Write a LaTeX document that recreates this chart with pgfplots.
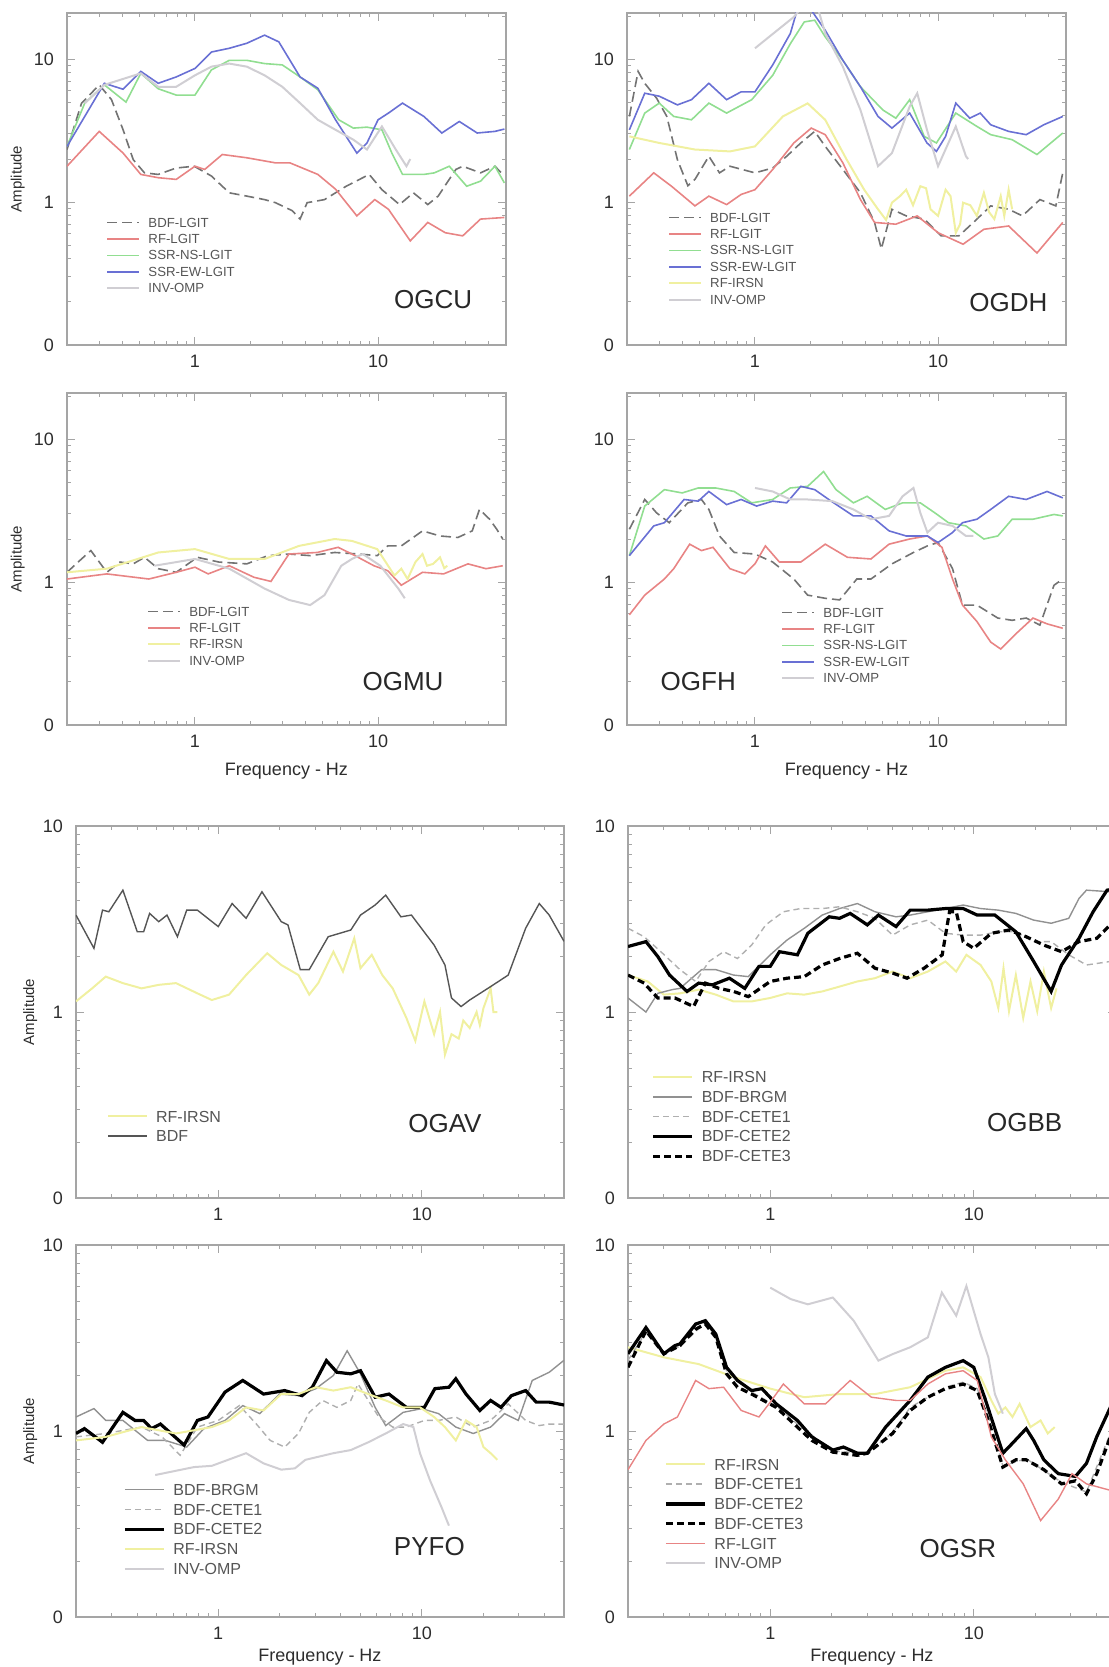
\documentclass[border=0pt]{standalone}
\usepackage{fontspec}
\setmainfont{Liberation Sans}
\usepackage{pgfplots}
\pgfplotsset{compat=1.18}
\definecolor{axc}{RGB}{165,165,165}
\definecolor{tlc}{RGB}{45,45,45}
\definecolor{lgc}{RGB}{85,85,85}
\definecolor{lbc}{RGB}{40,40,40}
\definecolor{redc}{RGB}{232,132,132}
\definecolor{grnc}{RGB}{145,222,145}
\definecolor{bluc}{RGB}{105,112,212}
\definecolor{yelc}{RGB}{240,240,160}
\definecolor{invc}{RGB}{208,206,211}
\definecolor{bdfc}{RGB}{115,115,115}
\definecolor{bdfd}{RGB}{85,85,85}
\definecolor{brgc}{RGB}{145,145,145}
\definecolor{cetc}{RGB}{175,175,175}
\pgfplotsset{
  every axis/.append style={
    scale only axis, xmin=0.2, xmax=50,
    axis line style={axc, line width=0.7pt},
    major tick length=4pt, minor tick length=2pt,
    xtick={1,10}, xticklabels={\mbox{1},\mbox{10}},
    ytick={0.1,1,10}, yticklabels={\mbox{0},\mbox{1},\mbox{10}},
    minor xtick={0.3,0.4,0.5,0.6,0.7,0.8,0.9,2,3,4,5,6,7,8,9,20,30,40},
    minor ytick={0.2,0.3,0.4,0.5,0.6,0.7,0.8,0.9,2,3,4,5,6,7,8,9,20},
    tick label style={font=\fontsize{9}{9}\selectfont, text=tlc},
    xticklabel style={yshift=-1.5pt}, yticklabel style={xshift=-3pt},
    legend cell align=left,
    legend style={draw=none, fill=none, font=\fontsize{6.6}{6.6}\selectfont, text=lgc,
      inner xsep=0pt, inner ysep=0pt, row sep=2.6pt, column sep=3.5pt,
      nodes={inner sep=0.5pt, text depth=0pt}},
  },
  every tick/.append style={axc, line width=0.5pt},
  legend image code/.code={\draw[#1] (0pt,0pt) -- (16pt,0pt);},
}
\pgfplotsset{
  mytop/.style={width=219.5pt, height=166pt, ymin=0.1, ymax=21},
  mybot/.style={width=244pt, height=186pt, ymin=0.1, ymax=10,
    legend style={font=\fontsize{8}{8}\selectfont, row sep=3.3pt}},
  myylab/.style={ylabel={Amplitude}, ylabel style={at={(axis description cs:#1,0.5)}, anchor=center, font=\fontsize{7.5}{7.5}\selectfont, text=tlc}},
  myxlab/.style={xlabel={Frequency - Hz}, xlabel style={at={(axis description cs:0.5,0)}, anchor=center, yshift=#1, font=\fontsize{9}{9}\selectfont, text=tlc}},
  sbdfl/.style={draw=bdfc, line width=0.8pt, dash pattern=on 5pt off 2.5pt},
  srfl/.style={draw=redc, line width=0.8pt},
  sssrns/.style={draw=grnc, line width=0.8pt},
  sssrew/.style={draw=bluc, line width=0.8pt},
  sinv/.style={draw=invc, line width=1pt},
  srfi/.style={draw=yelc, line width=1pt},
  sbdf/.style={draw=bdfd, line width=0.7pt},
  sbrgm/.style={draw=brgc, line width=0.7pt},
  scete1/.style={draw=cetc, line width=0.7pt, dash pattern=on 3pt off 2pt},
  scete2/.style={draw=black, line width=1.6pt},
  scete3/.style={draw=black, line width=1.6pt, dash pattern=on 3.5pt off 2pt},
}
\tikzset{mystn/.style={font=\fontsize{13}{13}\selectfont, text=lbc}}
\begin{document}
\begin{tikzpicture}
\useasboundingbox (0pt,0pt) rectangle (554.5pt,-833.5pt);
% ---------------- OGCU
\begin{loglogaxis}[mytop, myylab=-0.112, at={(33.5pt,-172.5pt)}, anchor=south west,
  legend style={at={(axis description cs:0.089,0.387)}, anchor=north west}]
\addplot[sbdfl] coordinates {(0.2,2.33)(0.24,4.9)(0.3,6.6)(0.35,5.2)(0.405,3.2)(0.46,1.98)(0.53,1.6)(0.63,1.56)(0.79,1.73)(0.99,1.78)(1.23,1.52)(1.54,1.16)(1.92,1.1)(2.4,1.04)(2.75,0.99)(3.4,0.87)(3.75,0.76)(4.1,0.99)(5.1,1.04)(6.7,1.29)(8.95,1.56)(10.5,1.22)(13.1,0.96)(15.6,1.16)(18.7,0.96)(21.3,1.1)(26.6,1.69)(29,1.78)(36.3,1.6)(43.5,1.78)(49,1.52)};
\addlegendentry{BDF-LGIT}
\addplot[srfl] coordinates {(0.2,1.78)(0.3,3.12)(0.405,2.2)(0.506,1.56)(0.63,1.48)(0.79,1.44)(1,1.78)(1.13,1.69)(1.41,2.15)(1.92,2.04)(2.75,1.88)(3.3,1.88)(4.69,1.56)(5.86,1.23)(7.66,0.8)(9.6,1.04)(11.4,0.89)(15,0.535)(18.7,0.72)(23.3,0.61)(29,0.58)(36.3,0.76)(49,0.78)};
\addlegendentry{RF-LGIT}
\addplot[sssrns] coordinates {(0.2,2.45)(0.25,4.92)(0.32,6.6)(0.42,5.0)(0.506,7.95)(0.63,6.2)(0.79,5.6)(1,5.6)(1.23,8.4)(1.54,9.8)(1.92,9.8)(2.4,9.3)(3.0,9.1)(3.75,7.5)(4.69,6.1)(6.1,3.76)(7.33,3.29)(8.7,3.34)(10.5,3.2)(11.9,2.2)(13.6,1.56)(17.8,1.56)(20.3,1.6)(24.5,1.78)(30.5,1.29)(36.3,1.4)(43.5,1.78)(49,1.36)};
\addlegendentry{SSR-NS-LGIT}
\addplot[sssrew] coordinates {(0.2,2.45)(0.32,6.77)(0.405,6.15)(0.506,8.2)(0.63,6.77)(0.79,7.5)(1,8.6)(1.23,11.2)(1.54,11.9)(1.92,12.9)(2.4,14.7)(2.87,13.2)(3.75,7.5)(4.69,6.25)(5.86,3.76)(7.66,2.2)(8.7,2.59)(10,3.76)(11.4,4.19)(13.6,4.92)(17.8,3.97)(22.3,3.04)(27.8,3.66)(34.8,3.04)(43.5,3.12)(49,3.24)};
\addlegendentry{SSR-EW-LGIT}
\addplot[sinv] coordinates {(0.25,4.9)(0.32,6.6)(0.506,7.95)(0.63,6.4)(0.79,6.4)(1,7.7)(1.23,8.85)(1.54,9.3)(1.92,8.85)(2.4,7.7)(3.0,6.4)(3.75,4.92)(4.69,3.76)(5.86,3.2)(7.33,2.73)(8.7,2.33)(10.5,3.38)(12.5,2.33)(14.3,1.78)(15,2.0)};
\addlegendentry{INV-OMP}
\node[mystn] at (axis cs:20,0.207) {OGCU};
\end{loglogaxis}
% ---------------- OGDH
\begin{loglogaxis}[mytop, at={(313.5pt,-172.5pt)}, anchor=south west,
  legend style={at={(axis description cs:0.093,0.402)}, anchor=north west}]
\addplot[sbdfl] coordinates {(0.206,3.97)(0.23,8.2)(0.25,6.77)(0.29,5.33)(0.33,3.97)(0.377,1.98)(0.43,1.3)(0.47,1.44)(0.56,2.09)(0.64,1.6)(0.73,1.78)(1,1.6)(1.25,1.73)(1.49,2.09)(1.78,2.59)(2.12,3.12)(2.42,2.45)(3.02,1.69)(3.77,1.16)(4.5,0.72)(4.9,0.47)(5.6,0.89)(6.7,0.8)(8.4,0.76)(10.4,0.58)(13,0.58)(15.6,0.72)(19.4,0.94)(24.3,0.89)(28.9,0.8)(36,1.04)(44,0.94)(48,1.6)};
\addlegendentry{BDF-LGIT}
\addplot[srfl] coordinates {(0.206,1.1)(0.28,1.6)(0.35,1.29)(0.47,0.94)(0.56,1.1)(0.7,0.96)(0.84,1.13)(1,1.22)(1.25,1.69)(1.63,2.59)(2.03,3.29)(2.42,2.96)(3.02,1.88)(3.77,1.04)(4.5,0.72)(5.88,0.7)(7.7,0.8)(10,0.61)(13.7,0.507)(17.8,0.645)(24.3,0.68)(34.7,0.44)(48,0.72)};
\addlegendentry{RF-LGIT}
\addplot[sssrns] coordinates {(0.206,2.33)(0.25,4.19)(0.3,4.92)(0.36,3.97)(0.45,3.76)(0.56,4.92)(0.7,4.19)(0.96,5.2)(1.25,7.7)(1.56,12.8)(1.86,18.2)(2.12,18.7)(2.42,14.3)(3.02,9.8)(3.77,6.4)(5.0,4.4)(5.88,3.86)(7,5.2)(8.4,2.88)(9.8,2.59)(12.5,4.19)(16.3,3.38)(19.4,2.96)(25.4,2.73)(34.7,2.15)(48,3.04)};
\addlegendentry{SSR-NS-LGIT}
\addplot[sssrew] coordinates {(0.206,3.2)(0.25,5.77)(0.3,5.5)(0.377,4.78)(0.45,5.2)(0.56,6.77)(0.7,5.2)(0.84,5.9)(1,5.9)(1.25,9.1)(1.56,15.1)(1.7,22)(2.03,22)(2.42,15.9)(3.02,9.8)(3.77,6.4)(4.7,3.97)(5.6,3.29)(7,4.19)(8.7,2.59)(9.8,2.26)(11,2.88)(12.5,4.92)(14.9,3.86)(17,4.19)(19.4,3.47)(24.3,3.12)(30.3,2.96)(37.8,3.47)(48,3.97)};
\addlegendentry{SSR-EW-LGIT}
\addplot[srfi] coordinates {(0.206,2.88)(0.3,2.59)(0.47,2.33)(0.73,2.26)(1,2.45)(1.42,3.97)(1.94,4.9)(2.42,3.76)(3.17,1.98)(3.95,1.22)(4.7,0.89)(5.2,0.75)(5.6,0.99)(6.2,1.1)(6.7,1.22)(7.3,0.95)(8,1.29)(8.6,1.25)(9.1,0.89)(10,0.8)(11,1.22)(11.7,1.1)(12.5,0.61)(13.2,0.7)(13.7,0.99)(15,0.95)(16.3,0.8)(17.8,1.16)(19,0.85)(20.3,0.76)(22,1.1)(23,0.8)(24.3,1.22)(25.4,0.89)};
\addlegendentry{RF-IRSN}
\addplot[sinv] coordinates {(1,11.9)(1.63,19.7)(1.8,23)(2.2,23)(2.42,15.1)(3.02,8.85)(3.77,4.4)(4.7,1.78)(5.6,2.2)(7,4.66)(7.7,5.77)(8.7,3.2)(10,1.78)(12.5,3.38)(14.2,2.09)(14.6,2.0)};
\addlegendentry{INV-OMP}
\node[mystn] at (axis cs:24.2,0.197) {OGDH};
\end{loglogaxis}
% ---------------- OGMU
\begin{loglogaxis}[mytop, myylab=-0.112, myxlab=-23pt, at={(33.5pt,-362.5pt)}, anchor=south west,
  legend style={at={(axis description cs:0.182,0.36)}, anchor=north west}]
\addplot[sbdfl] coordinates {(0.2,1.17)(0.24,1.45)(0.27,1.66)(0.33,1.17)(0.39,1.38)(0.46,1.34)(0.53,1.49)(0.63,1.24)(0.79,1.17)(1.03,1.49)(1.35,1.38)(1.92,1.34)(2.5,1.53)(3.26,1.57)(4.26,1.53)(5.8,1.61)(7.9,1.57)(9.9,1.53)(11.3,1.79)(13.4,1.79)(17.5,2.28)(21.8,2.1)(27.3,2.05)(32.7,2.28)(35.8,3.22)(40.7,2.75)(44.5,2.34)(48,2.0)};
\addlegendentry{BDF-LGIT}
\addplot[srfl] coordinates {(0.2,1.05)(0.33,1.14)(0.56,1.05)(0.79,1.17)(1,1.27)(1.18,1.14)(1.54,1.3)(2.1,1.08)(2.6,1.01)(3.26,1.57)(4.65,1.61)(6.05,1.75)(7.2,1.57)(9.5,1.3)(11.3,1.2)(13.4,0.95)(17.5,1.17)(22.8,1.14)(31,1.34)(38.9,1.24)(48,1.3)};
\addlegendentry{RF-LGIT}
\addplot[srfi] coordinates {(0.2,1.17)(0.33,1.24)(0.63,1.61)(1,1.7)(1.54,1.45)(2.4,1.45)(3.7,1.79)(5.8,2.0)(7.2,1.94)(9.9,1.7)(12.3,1.11)(13.4,1.24)(14.5,1.05)(16,1.38)(17.5,1.57)(18.5,1.3)(20,1.34)(21.8,1.49)(23,1.25)(23.9,1.3)};
\addlegendentry{RF-IRSN}
\addplot[sinv] coordinates {(0.6,1.3)(1,1.45)(1.54,1.24)(2.4,0.9)(3.26,0.75)(4.26,0.69)(5.1,0.81)(6.3,1.3)(7.2,1.45)(8.25,1.57)(10.3,1.3)(12.9,0.9)(14,0.77)};
\addlegendentry{INV-OMP}
\node[mystn] at (axis cs:13.7,0.203) {OGMU};
\end{loglogaxis}
% ---------------- OGFH
\begin{loglogaxis}[mytop, myxlab=-23pt, at={(313.5pt,-362.5pt)}, anchor=south west,
  legend style={at={(axis description cs:0.351,0.357)}, anchor=north west}]
\addplot[sbdfl] coordinates {(0.206,2.34)(0.25,3.78)(0.29,3.05)(0.34,2.6)(0.43,3.58)(0.51,3.78)(0.56,3.22)(0.64,2.1)(0.77,1.61)(1,1.57)(1.25,1.38)(1.63,1.05)(1.94,0.81)(2.42,0.77)(2.9,0.75)(3.6,1.05)(4.3,1.05)(5.6,1.34)(7.34,1.61)(8.75,1.79)(10,1.89)(12,1.24)(13.6,0.69)(16.3,0.69)(21.2,0.56)(25.4,0.54)(30.3,0.56)(36,0.5)(43,0.95)(48,1.05)};
\addlegendentry{BDF-LGIT}
\addplot[srfl] coordinates {(0.206,0.59)(0.25,0.81)(0.32,1.05)(0.36,1.24)(0.44,1.84)(0.51,1.66)(0.59,1.75)(0.73,1.24)(0.88,1.14)(1,1.34)(1.14,1.79)(1.36,1.38)(1.78,1.38)(2.42,1.84)(3.2,1.49)(4.3,1.45)(5.4,1.84)(7,2.0)(8.75,2.1)(10.5,1.75)(12,1.05)(13.6,0.69)(16.3,0.53)(19.4,0.38)(22,0.34)(26.4,0.43)(33,0.56)(39.4,0.51)(48,0.475)};
\addlegendentry{RF-LGIT}
\addplot[sssrns] coordinates {(0.206,1.53)(0.25,3.4)(0.32,4.43)(0.4,4.2)(0.49,4.55)(0.61,4.55)(0.77,4.3)(0.96,3.58)(1.25,3.78)(1.56,4.55)(1.94,4.67)(2.37,5.93)(2.77,4.43)(3.45,3.58)(4.1,3.98)(5.15,3.22)(6.4,3.58)(8.0,3.58)(9.6,3.05)(11.4,2.6)(14.2,2.47)(17.8,2.0)(21.2,2.1)(25.4,2.75)(33,2.75)(43,2.97)(48,2.9)};
\addlegendentry{SSR-NS-LGIT}
\addplot[sssrew] coordinates {(0.206,1.53)(0.28,2.47)(0.32,2.6)(0.41,3.78)(0.49,3.68)(0.56,4.3)(0.7,3.48)(0.84,3.78)(1.02,3.4)(1.25,3.68)(1.49,3.58)(1.78,4.67)(2.12,4.43)(2.53,3.78)(3.45,2.9)(4.3,2.9)(5.4,2.28)(6.7,2.1)(8.75,2.1)(10,1.89)(12,2.22)(13.6,2.6)(16.3,2.75)(19.4,3.22)(24.3,3.98)(30.3,3.78)(39.4,4.3)(48,3.88)};
\addlegendentry{SSR-EW-LGIT}
\addplot[sinv] coordinates {(1,4.55)(1.25,4.3)(1.56,3.78)(1.94,3.78)(2.65,3.68)(3.45,3.22)(4.3,2.75)(5.4,2.9)(6.4,3.98)(7.34,4.55)(8.0,3.05)(8.75,2.22)(10,2.6)(12,2.47)(14.2,2.1)(15.6,2.1)};
\addlegendentry{INV-OMP}
\node[mystn] at (axis cs:0.49,0.203) {OGFH};
\end{loglogaxis}
% ---------------- OGAV
\begin{loglogaxis}[mybot, myylab=-0.094, at={(38pt,-599pt)}, anchor=south west,
  legend image code/.code={\draw[#1] (0pt,0pt) -- (19.5pt,0pt);},
  legend style={at={(axis description cs:0.063,0.238)}, anchor=north west}]
\addplot[srfi] coordinates {(0.2,1.14)(0.24,1.34)(0.28,1.55)(0.34,1.43)(0.42,1.34)(0.51,1.4)(0.62,1.43)(0.79,1.26)(0.93,1.16)(1.13,1.24)(1.37,1.58)(1.74,2.07)(2.04,1.79)(2.48,1.58)(2.8,1.24)(3.1,1.43)(3.68,2.11)(4.1,1.65)(4.66,2.49)(5.0,1.72)(5.68,2.03)(6.4,1.58)(7.2,1.34)(8.4,0.93)(9.3,0.7)(10.3,1.14)(11.5,0.76)(12.3,1.0)(13,0.59)(14,0.76)(15.2,0.72)(16,0.9)(17.2,0.82)(18.6,1.0)(19.3,0.85)(20.1,1.05)(21.8,1.34)(22.5,1.0)(23.5,1.0)};
\addlegendentry{RF-IRSN}
\addplot[sbdf] coordinates {(0.2,3.32)(0.245,2.2)(0.27,3.53)(0.29,3.46)(0.34,4.52)(0.4,2.7)(0.43,2.7)(0.46,3.39)(0.51,3.06)(0.56,3.32)(0.63,2.54)(0.7,3.53)(0.79,3.53)(1,2.88)(1.17,3.83)(1.37,3.19)(1.64,4.43)(2.04,3.06)(2.2,2.94)(2.53,1.69)(2.8,1.69)(3.47,2.54)(4.48,2.76)(5.0,3.32)(5.9,3.76)(6.65,4.25)(7.9,3.25)(8.9,3.32)(11.5,2.29)(13,1.79)(14,1.19)(15.6,1.07)(17.2,1.16)(21.8,1.37)(26.6,1.58)(32.4,2.82)(37.8,3.83)(42.3,3.32)(50,2.4)};
\addlegendentry{BDF}
\node[mystn] at (axis cs:13,0.25) {OGAV};
\end{loglogaxis}
% ---------------- OGBB
\begin{loglogaxis}[mybot, at={(314pt,-599pt)}, anchor=south west,
  legend image code/.code={\draw[#1] (0pt,0pt) -- (19.5pt,0pt);},
  legend style={at={(axis description cs:0.0475,0.344)}, anchor=north west}]
\addplot[srfi] coordinates {(0.2,1.58)(0.25,1.46)(0.3,1.24)(0.36,1.26)(0.445,1.32)(0.54,1.24)(0.66,1.14)(0.81,1.14)(1,1.19)(1.21,1.26)(1.47,1.24)(1.8,1.29)(2.19,1.37)(2.68,1.46)(3.27,1.52)(3.99,1.65)(4.87,1.52)(5.95,1.65)(7.26,1.87)(8.2,1.65)(9.2,2.03)(10.8,1.79)(12.2,1.46)(13.2,1.05)(14,1.72)(14.9,1.01)(16.1,1.58)(17.5,0.93)(19,1.46)(20.5,1.01)(22.1,1.65)(24,1.05)(25.5,1.34)};
\addlegendentry{RF-IRSN}
\addplot[sbrgm] coordinates {(0.2,1.19)(0.245,1.0)(0.28,1.26)(0.33,1.32)(0.36,1.34)(0.46,1.69)(0.54,1.69)(0.66,1.58)(0.78,1.55)(1.0,2.03)(1.21,2.44)(1.47,2.82)(1.8,3.32)(2.19,3.6)(2.68,3.83)(3.27,3.46)(4.15,3.25)(4.87,3.32)(5.95,3.46)(7.26,3.6)(8.87,3.76)(10.8,3.6)(13.2,3.53)(16.1,3.39)(19.7,3.12)(24,3.0)(29.3,3.19)(32.9,4.08)(35.8,4.52)(46.9,4.43)(50,4.4)};
\addlegendentry{BDF-BRGM}
\addplot[scete1] coordinates {(0.2,2.82)(0.24,2.54)(0.29,2.11)(0.36,1.69)(0.43,1.46)(0.5,1.87)(0.59,2.11)(0.69,1.94)(0.81,2.29)(0.95,2.94)(1.16,3.46)(1.41,3.6)(1.8,3.6)(2.19,3.68)(2.68,3.46)(3.27,3.19)(3.99,2.59)(4.87,2.94)(5.95,3.12)(7.26,2.65)(8.87,2.59)(10.8,2.59)(13.2,2.7)(16.1,2.7)(19.7,2.39)(24,2.39)(29.3,2.03)(35.8,1.79)(46.9,1.87)(50,1.85)};
\addlegendentry{BDF-CETE1}
\addplot[scete2] coordinates {(0.2,2.25)(0.245,2.39)(0.28,1.99)(0.32,1.58)(0.39,1.29)(0.445,1.43)(0.52,1.4)(0.63,1.52)(0.75,1.34)(0.88,1.76)(1.0,1.76)(1.11,2.11)(1.36,2.03)(1.53,2.65)(1.95,3.25)(2.19,3.19)(2.47,3.39)(3.0,2.94)(3.4,3.32)(4.15,2.88)(4.87,3.53)(5.95,3.53)(7.26,3.6)(8.87,3.6)(10.4,3.32)(12.7,3.32)(16.1,2.7)(19.7,1.87)(24,1.29)(27,1.79)(32.9,2.49)(38.6,3.46)(45.2,4.52)(50,4.6)};
\addlegendentry{BDF-CETE2}
\addplot[scete3] coordinates {(0.2,1.58)(0.24,1.43)(0.28,1.19)(0.34,1.19)(0.42,1.07)(0.48,1.43)(0.56,1.34)(0.66,1.29)(0.78,1.21)(1.0,1.46)(1.21,1.52)(1.47,1.55)(1.8,1.79)(2.19,1.94)(2.68,2.07)(3.27,1.72)(3.99,1.62)(4.7,1.52)(5.7,1.72)(7.0,2.03)(7.6,3.46)(8.2,3.46)(8.87,2.39)(10,2.2)(12.2,2.65)(14.9,2.76)(18.1,2.54)(22.1,2.29)(27,2.11)(32.9,2.39)(40.2,2.49)(46.9,2.94)(50,3.0)};
\addlegendentry{BDF-CETE3}
\node[mystn] at (axis cs:17.8,0.254) {OGBB};
\end{loglogaxis}
% ---------------- PYFO
\begin{loglogaxis}[mybot, myylab=-0.094, myxlab=-20pt, at={(38pt,-808.5pt)}, anchor=south west,
  legend image code/.code={\draw[#1] (0pt,0pt) -- (19.5pt,0pt);},
  legend style={at={(axis description cs:0.096,0.361)}, anchor=north west}]
\addplot[sbrgm] coordinates {(0.2,1.19)(0.245,1.32)(0.28,1.14)(0.34,1.14)(0.45,0.89)(0.55,0.89)(0.7,0.82)(0.85,1.03)(1.08,1.14)(1.32,1.37)(1.6,1.24)(2.0,1.58)(2.48,1.55)(3.02,1.69)(3.68,1.99)(4.3,2.7)(5.0,2.03)(5.9,1.34)(6.65,1.07)(8.1,1.26)(10,1.32)(12.1,1.24)(14.7,1.05)(17.9,0.97)(21.8,1.05)(25.5,1.24)(29.8,1.14)(34.9,1.87)(42.3,2.07)(50,2.4)};
\addlegendentry{BDF-BRGM}
\addplot[scete1] coordinates {(0.2,0.93)(0.28,0.97)(0.42,1.05)(0.53,0.93)(0.65,0.74)(0.79,1.05)(1.0,1.14)(1.27,1.37)(1.54,1.09)(1.8,0.89)(2.12,0.82)(2.48,0.97)(2.8,1.26)(3.26,1.46)(3.83,1.34)(4.48,1.46)(4.86,1.79)(5.46,1.46)(6.15,1.19)(7.2,1.05)(8.4,1.05)(10.3,1.14)(12.1,1.14)(14.7,1.19)(17.9,1.05)(21.8,1.14)(26.6,1.4)(32.4,1.14)(37.8,1.07)(42.3,1.09)(50,1.09)};
\addlegendentry{BDF-CETE1}
\addplot[scete2] coordinates {(0.2,0.97)(0.22,1.03)(0.27,0.87)(0.34,1.26)(0.39,1.14)(0.43,1.14)(0.47,1.03)(0.52,1.09)(0.68,0.84)(0.79,1.14)(0.89,1.19)(1.08,1.62)(1.32,1.87)(1.67,1.58)(2.12,1.65)(2.58,1.55)(2.9,1.72)(3.4,2.39)(3.83,2.07)(4.48,2.03)(5.0,2.11)(5.9,1.52)(6.9,1.58)(8.4,1.34)(10.3,1.34)(11.6,1.69)(13.6,1.72)(14.7,1.91)(16.5,1.58)(19.3,1.29)(21.8,1.46)(24.5,1.34)(27.6,1.55)(32.4,1.65)(36.5,1.43)(42.3,1.43)(50,1.38)};
\addlegendentry{BDF-CETE2}
\addplot[srfi] coordinates {(0.2,0.89)(0.28,0.93)(0.42,1.05)(0.62,0.97)(0.93,1.05)(1.13,1.14)(1.37,1.34)(1.67,1.29)(2.04,1.58)(2.48,1.58)(3.02,1.72)(3.68,1.65)(4.48,1.72)(5.46,1.58)(6.65,1.46)(8.1,1.34)(9.8,1.34)(11.5,1.19)(13,1.05)(14.7,0.89)(16.5,1.14)(18.6,1.05)(20.1,0.82)(21.8,0.76)(23.5,0.7)};
\addlegendentry{RF-IRSN}
\addplot[sinv] coordinates {(0.49,0.58)(0.76,0.64)(0.93,0.65)(1.37,0.76)(1.67,0.67)(2.04,0.62)(2.38,0.63)(2.68,0.7)(3.68,0.76)(4.48,0.79)(5.46,0.87)(6.65,0.97)(8.1,1.09)(9.1,1.05)(9.8,0.76)(11,0.54)(12.5,0.39)(13.6,0.31)};
\addlegendentry{INV-OMP}
\node[mystn] at (axis cs:10.9,0.24) {PYFO};
\end{loglogaxis}
% ---------------- OGSR
\begin{loglogaxis}[mybot, myxlab=-20pt, at={(314pt,-808.5pt)}, anchor=south west,
  legend image code/.code={\draw[#1] (0pt,0pt) -- (19.5pt,0pt);},
  legend style={at={(axis description cs:0.0735,0.429)}, anchor=north west}]
\addplot[srfi] coordinates {(0.2,2.82)(0.3,2.49)(0.445,2.29)(0.663,1.95)(1,1.69)(1.47,1.52)(2.19,1.58)(3.27,1.58)(4.87,1.72)(7.26,2.11)(8.87,2.2)(10.8,1.95)(12.2,1.46)(13.2,1.24)(14.3,1.34)(15.5,1.19)(16.8,1.4)(19,1.05)(21.3,1.14)(23.1,0.97)(25,1.05)};
\addlegendentry{RF-IRSN}
\addplot[scete1] coordinates {(0.2,2.4)(0.245,3.4)(0.3,2.65)(0.36,2.85)(0.48,3.83)(0.54,3.2)(0.61,2.11)(0.81,1.62)(1.07,1.36)(1.36,1.09)(2.03,0.78)(3.0,0.76)(3.99,0.98)(4.87,1.34)(7.26,1.72)(8.87,1.83)(10.4,1.69)(11.8,1.19)(13.9,0.65)(18.1,0.71)(27,0.53)(35.8,0.47)(46.9,0.97)(50,1.2)};
\addlegendentry{BDF-CETE1}
\addplot[scete2] coordinates {(0.2,2.6)(0.245,3.6)(0.3,2.6)(0.34,2.88)(0.36,2.94)(0.43,3.76)(0.48,3.92)(0.54,3.32)(0.61,2.2)(0.69,1.87)(0.81,1.65)(0.91,1.69)(1.07,1.4)(1.36,1.14)(1.6,0.93)(2.03,0.79)(2.29,0.82)(2.68,0.76)(3.0,0.76)(3.69,1.05)(4.87,1.46)(5.95,1.95)(7.26,2.2)(8.87,2.39)(10,2.2)(11.3,1.52)(13.9,0.76)(15.5,0.86)(18.1,1.03)(19.7,0.89)(22.1,0.7)(26,0.59)(31.6,0.57)(35.8,0.67)(40.2,0.93)(46.9,1.34)(50,1.7)};
\addlegendentry{BDF-CETE2}
\addplot[scete3] coordinates {(0.2,2.2)(0.245,3.46)(0.3,2.6)(0.36,2.88)(0.43,3.53)(0.48,3.76)(0.54,3.19)(0.61,2.03)(0.69,1.72)(0.81,1.58)(1.07,1.34)(1.36,1.05)(1.6,0.89)(2.03,0.77)(2.68,0.74)(3.0,0.76)(3.99,0.97)(4.87,1.29)(5.95,1.52)(7.26,1.69)(8.87,1.79)(10.4,1.65)(11.8,1.14)(13.9,0.64)(16.1,0.7)(18.1,0.7)(22.1,0.62)(27,0.52)(31.6,0.54)(35.8,0.46)(40.2,0.59)(46.9,0.93)(50,1.1)};
\addlegendentry{BDF-CETE3}
\addplot[srfl, line width=0.7pt] coordinates {(0.2,0.62)(0.245,0.89)(0.3,1.09)(0.35,1.19)(0.43,1.87)(0.5,1.69)(0.59,1.72)(0.72,1.29)(0.88,1.19)(1,1.43)(1.16,1.79)(1.47,1.4)(1.87,1.4)(2.47,1.87)(3.14,1.52)(4.15,1.46)(4.87,1.46)(5.95,1.79)(7.26,2.03)(8.87,2.11)(10.4,1.87)(12.2,0.93)(14.3,0.7)(17.5,0.52)(21.3,0.33)(26,0.43)(30.4,0.59)(35.8,0.52)(46.9,0.48)(50,0.47)};
\addlegendentry{RF-LGIT}
\addplot[sinv] coordinates {(1,5.9)(1.26,5.12)(1.53,4.8)(2.03,5.22)(2.57,3.92)(3.4,2.39)(3.99,2.59)(4.87,2.82)(5.95,3.19)(6.97,5.55)(8.2,4.17)(9.2,6.02)(10.8,3.32)(11.8,2.49)(12.7,1.58)(13.9,1.24)};
\addlegendentry{INV-OMP}
\node[mystn] at (axis cs:8.35,0.234) {OGSR};
\end{loglogaxis}
\end{tikzpicture}
\end{document}
